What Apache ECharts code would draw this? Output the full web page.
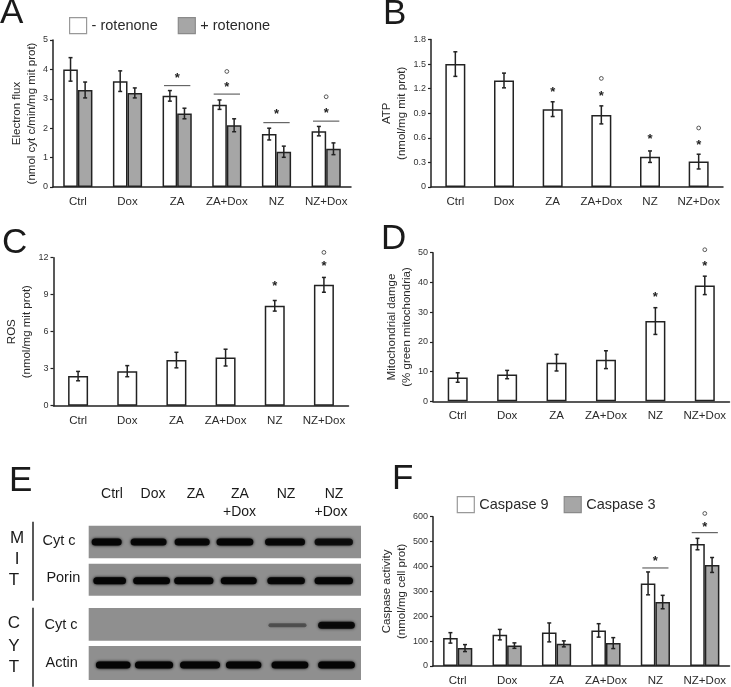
<!DOCTYPE html>
<html><head><meta charset="utf-8">
<style>html,body{margin:0;padding:0;background:#fff}#c{width:731px;height:687px}</style>
<script src="https://cdn.jsdelivr.net/npm/echarts@6/dist/echarts.min.js"></script>
</head><body><div id="c"></div>
<script>
const categories = ['Ctrl','Dox','ZA','ZA+Dox','NZ','NZ+Dox'];

// Panel A
const aMinusRot = [4.0,3.6,3.1,2.8,1.8,1.9];
const aMinusErr = [0.4,0.35,0.18,0.16,0.2,0.16];
const aPlusRot  = [3.3,3.2,2.5,2.1,1.2,1.3];
const aPlusErr  = [0.27,0.17,0.18,0.22,0.19,0.2];
const aStars = [[2,3.75],[3,3.45],[4,2.53],[5,2.58]];
const aRings = [[3,3.93],[5,3.07]];
const aLines = [[2,3.45],[3,3.16],[4,2.19],[5,2.24]];
// Panel B
const bAtp = [1.5,1.3,0.95,0.88,0.37,0.31];
const bErr = [0.15,0.09,0.09,0.11,0.07,0.09];
const bStars = [[2,1.18],[3,1.13],[4,0.6],[5,0.53]];
const bRings = [[3,1.325],[5,0.72]];
// Panel C
const cRos = [2.4,2.8,3.7,3.9,8.1,9.8];
const cErr = [0.38,0.45,0.63,0.68,0.43,0.6];
const cStars = [[4,9.84],[5,11.43]];
const cRings = [[5,12.43]];
// Panel D
const dDamage = [8,9,13,14,27,39];
const dErr = [1.6,1.4,2.8,3,4.5,3.1];
const dStars = [[4,35.5],[5,46]];
const dRings = [[5,51]];
// Panel F
const fCasp9 = [113,126,135,143,332,490];
const fErr9  = [21,21,38,27,46,23];
const fCasp3 = [72,82,89,92,257,406];
const fErr3  = [14,11,12,22,27,30];
const fStars = [[4,430],[5,565]];
const fRings = [[5,613]];
const fLines = [[4,394],[5,536]];
// Panel E blot: [centre %, width %, darkness]
const mitCytc = [[6.6,11,1],[22,13.2,.95],[38,12.9,.95],[53.7,13.5,1],[72.1,14.7,.95],[90,14.1,.85]];
const mitPorin = [[7.7,12,1],[23.1,13.5,1],[38.6,14.4,1],[55.1,13.2,1],[72.5,13.8,.95],[90,14.1,1]];
const cytCytc = [[73,14,.4],[91,13.5,.9]];
const cytActin = [[9,12.7,1],[24,14,1],[40.9,14.7,1],[56.9,13,1],[73.9,13.5,1],[91,13.5,1]];

const INK = '#222', GRAY = '#a6a6a6', TXT = '#2a2a2a', FONT = 'Liberation Sans, Arial, sans-serif';
const grids = [], xAxes = [], yAxes = [], series = [], legends = [];

function errData(vals, errs){ return vals.map((v,i)=>[i, v-errs[i], v+errs[i]]); }
function errorSeries(g, vals, errs, shift){
  return {type:'custom', xAxisIndex:g, yAxisIndex:g, clip:false, z:5, silent:true,
    encode:{x:0,y:[1,2]}, data:errData(vals,errs),
    renderItem(p,api){
      const lo=api.coord([api.value(0),api.value(1)]), hi=api.coord([api.value(0),api.value(2)]);
      const x=lo[0]+shift, s={stroke:INK,lineWidth:1.5};
      return {type:'group',children:[
        {type:'line',shape:{x1:x,y1:lo[1],x2:x,y2:hi[1]},style:s},
        {type:'line',shape:{x1:x-2,y1:lo[1],x2:x+2,y2:lo[1]},style:s},
        {type:'line',shape:{x1:x-2,y1:hi[1],x2:x+2,y2:hi[1]},style:s}]};
    }};
}
function lineSeries(g, data){
  return {type:'custom', xAxisIndex:g, yAxisIndex:g, clip:false, z:5, silent:true,
    encode:{x:0,y:1}, data,
    renderItem(p,api){
      const c=api.coord([api.value(0),api.value(1)]), hw=api.size([1,0])[0]*0.265;
      return {type:'line',shape:{x1:c[0]-hw,y1:c[1],x2:c[0]+hw,y2:c[1]},style:{stroke:'#666',lineWidth:1.2}};
    }};
}
function marks(g, stars, rings){
  series.push({type:'custom', xAxisIndex:g, yAxisIndex:g, clip:false, z:6, silent:true, encode:{x:0,y:1}, data:stars,
    renderItem(p,api){
      const c=api.coord([api.value(0),api.value(1)]);
      return {type:'text',style:{text:'*',x:c[0],y:c[1]+2,font:'bold 13px '+FONT,fill:INK,textAlign:'center',textVerticalAlign:'middle'}};
    }});
  series.push({type:'scatter', xAxisIndex:g, yAxisIndex:g, clip:false, z:6, silent:true, symbol:'circle', symbolSize:3.8, data:rings,
    itemStyle:{color:'#fff',borderColor:'#333',borderWidth:1}});
}
function panel(o){
  const g = grids.length;
  grids.push({left:o.left, top:o.top, width:o.width, height:o.height});
  xAxes.push({type:'category', gridIndex:g, data:categories,
    axisLine:{lineStyle:{color:INK,width:1.5}}, axisTick:{show:false},
    axisLabel:{interval:0, fontFamily:FONT, fontSize:11.5, color:TXT, margin:9}});
  yAxes.push({type:'value', gridIndex:g, min:0, max:o.max, interval:o.step, splitLine:{show:false},
    axisLine:{show:true,lineStyle:{color:INK,width:1.5}}, axisTick:{show:true,length:3,lineStyle:{color:INK,width:1.2}},
    axisLabel:{fontFamily:FONT, fontSize:9, color:'#333', margin:5, formatter:o.fmt},
    name:o.name, nameLocation:'middle', nameRotate:90, nameGap:o.gap,
    nameTextStyle:{fontFamily:FONT, fontSize:11.5, lineHeight:15, color:TXT, align:'center'}});
  const ws = o.bars.length===2 ? 14.6 : 20;
  o.bars.forEach((b,i)=>{
    series.push({type:'bar', name:b.name, xAxisIndex:g, yAxisIndex:g, data:b.vals, barWidth:ws, barGap:0,
      itemStyle:{color:i===0?'#fff':GRAY, borderColor:INK, borderWidth:1.5}, silent:true});
  });
  o.bars.forEach((b,i)=>{
    const shift = o.bars.length===2 ? (i===0?-ws/2:ws/2) : 0;
    series.push(errorSeries(g,b.vals,b.errs,shift));
  });
  if(o.lines) series.push(lineSeries(g,o.lines));
  marks(g,o.stars,o.rings);
  if(o.legend) legends.push({left:o.legend.left, top:o.legend.top, itemWidth:17, itemHeight:16, itemGap:o.legend.gap, padding:0,
    selectedMode:false, textStyle:{fontFamily:FONT,fontSize:14.5,color:TXT,padding:[0,0,0,0]}, icon:'rect',
    data:o.bars.map((b,i)=>({name:b.name,itemStyle:{color:i===0?'#fff':GRAY,borderColor:i===0?'#999':'#8a8a8a',borderWidth:1.2}}))});
}
const oneDec = v => v===0?'0':v.toFixed(1);

panel({left:53,top:40,width:298,height:147,max:5,step:1,name:'Electron flux\n(nmol cyt c/min/mg mit prot)',gap:11,
  bars:[{name:'- rotenone',vals:aMinusRot,errs:aMinusErr},{name:'+ rotenone',vals:aPlusRot,errs:aPlusErr}],
  stars:aStars,rings:aRings,lines:aLines,legend:{left:69,top:17,gap:20}});
panel({left:431,top:39.5,width:292,height:147.5,max:1.8,step:0.3,fmt:oneDec,name:'ATP\n(nmol/mg mit prot)',gap:20,
  bars:[{name:'ATP',vals:bAtp,errs:bErr}],stars:bStars,rings:bRings});
panel({left:53.5,top:257.7,width:295,height:148,max:12,step:3,name:'ROS\n(nmol/mg mit prot)',gap:18,
  bars:[{name:'ROS',vals:cRos,errs:cErr}],stars:cStars,rings:cRings});
panel({left:433,top:252.7,width:296.5,height:148.6,max:50,step:10,name:'Mitochondrial damge\n(% green mitochondria)',gap:19,
  bars:[{name:'Mitochondrial damage',vals:dDamage,errs:dErr}],stars:dStars,rings:dRings});
panel({left:433,top:516.7,width:296.5,height:150.6,max:600,step:100,name:'Caspase activity\n(nmol/mg cell prot)',gap:23,
  bars:[{name:'Caspase 9',vals:fCasp9,errs:fErr9},{name:'Caspase 3',vals:fCasp3,errs:fErr3}],
  stars:fStars,rings:fRings,lines:fLines,legend:{left:456.7,top:496,gap:15}});

// Blot panels
function blot(top,height,rowY,bands){
  const g = grids.length;
  grids.push({show:true,left:88.7,top,width:272.3,height,backgroundColor:'#8f8f8f',borderWidth:0});
  xAxes.push({type:'value',gridIndex:g,min:0,max:100,show:false});
  yAxes.push({type:'value',gridIndex:g,min:0,max:1,show:false});
  series.push({type:'custom',xAxisIndex:g,yAxisIndex:g,clip:true,silent:true,encode:{x:0},data:bands,
    renderItem(p,api){
      const c=api.coord([api.value(0),rowY]), w=api.size([api.value(1),0])[0], d=api.value(2), h=d<0.5?4:7;
      return {type:'rect',shape:{x:c[0]-w/2,y:c[1]-h/2,width:w,height:h,r:h/2},
        style:{fill:'#050505',opacity:d,shadowBlur:3,shadowColor:'rgba(0,0,0,'+d+')'}};
    }});
}
blot(525.7,32.6,0.5,mitCytc);
blot(563.7,32,0.47,mitPorin);
blot(608,32.7,0.47,cytCytc);
blot(646,34,0.44,cytActin);

function txt(text,x,y,size,align){
  return {type:'text',silent:true,style:{text,x,y,font:size+'px '+FONT,fill:'#1a1a1a',textAlign:align||'center',textVerticalAlign:'middle'}};
}
const graphics = [
  txt('A',0,13,35,'left'),txt('B',383,14,35,'left'),txt('C',2,243,35,'left'),txt('D',381,239,35,'left'),txt('E',9,481,35,'left'),txt('F',392,479,35,'left'),
  txt('Ctrl',112,494,14),txt('Dox',153,494,14),txt('ZA',195.7,494,14),txt('ZA',240,494,14),txt('+Dox',239.5,512,14),
  txt('NZ',286,494,14),txt('NZ',334,494,14),txt('+Dox',331,512,14),
  txt('M',17,538,17),txt('I',17,559,17),txt('T',14,580,17),txt('C',14,623,17),txt('Y',14,646,17),txt('T',14,667,17),
  txt('Cyt c',59,541,14.5),txt('Porin',63.3,578,14.5),txt('Cyt c',61,625,14.5),txt('Actin',61.7,663,14.5),
  {type:'line',silent:true,shape:{x1:33,y1:521.7,x2:33,y2:600.7},style:{stroke:INK,lineWidth:1.5}},
  {type:'line',silent:true,shape:{x1:33,y1:607.7,x2:33,y2:686.7},style:{stroke:INK,lineWidth:1.5}}
];

const chart = echarts.init(document.getElementById('c'),null,{renderer:'canvas'});
chart.setOption({animation:false,backgroundColor:'#fff',grid:grids,xAxis:xAxes,yAxis:yAxes,series,legend:legends,graphic:graphics});
</script></body></html>
